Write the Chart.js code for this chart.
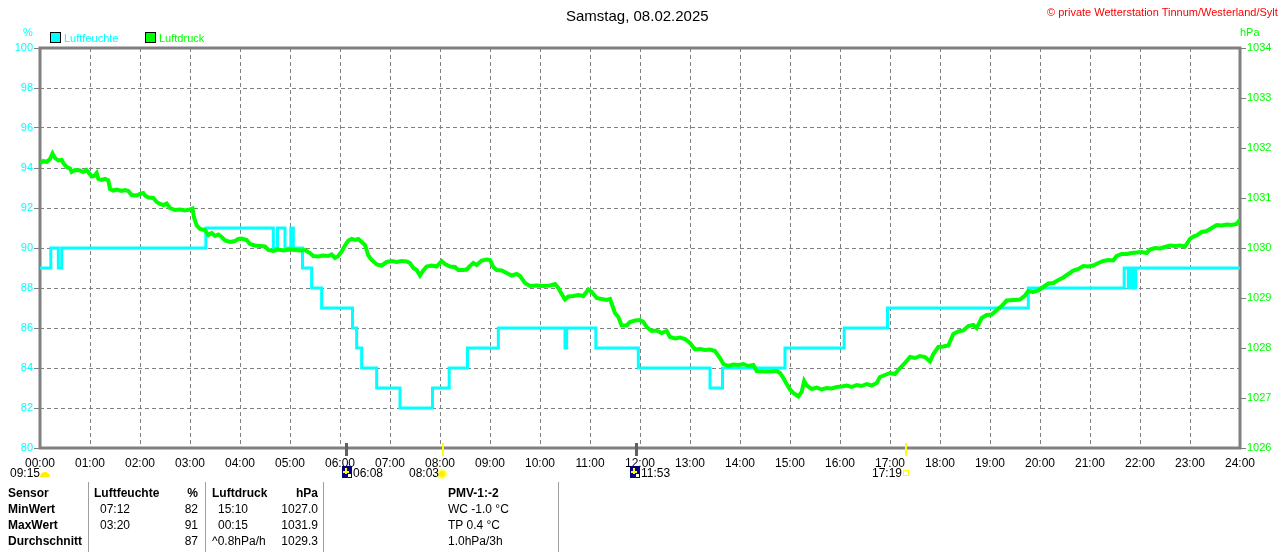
<!DOCTYPE html>
<html>
<head>
<meta charset="utf-8">
<script src="https://cdn.jsdelivr.net/npm/chart.js@4.4.1/dist/chart.umd.min.js"></script>
<style>
  body { margin: 0; background: #fff; font-family: "Liberation Sans", Arial, sans-serif; }
  #wrap { position: relative; width: 1280px; height: 552px; overflow: hidden; }
  #chart { position: absolute; left: 0; top: 0; }
  .t { position: absolute; white-space: nowrap; font-size: 12px; line-height: 14px; color: #000; }
  .b { font-weight: bold; }
  .r { text-align: right; }
  .sq { position: absolute; width: 9px; height: 9px; border: 1px solid #000; }
  .vl { position: absolute; top: 482px; width: 1px; height: 70px; background: #a0a0a0; }
</style>
</head>
<body>
<div id="wrap">
  <canvas id="chart" width="1280" height="552"></canvas>

  <div class="t" style="left:566px;top:7px;font-size:15px;line-height:17px">Samstag, 08.02.2025</div>
  <div class="t" style="left:1047px;top:5px;font-size:11px;color:#ff0000">© private Wetterstation Tinnum/Westerland/Sylt</div>

  <div class="t" style="left:23px;top:25px;font-size:11px;color:#00ffff">%</div>
  <div class="t" style="left:1240px;top:25px;font-size:11px;color:#00ff00">hPa</div>
  <div class="sq" style="left:50px;top:32px;background:#00ffff"></div>
  <div class="t" style="left:64px;top:31px;font-size:11px;color:#00ffff">Luftfeuchte</div>
  <div class="sq" style="left:145px;top:32px;background:#00ff00"></div>
  <div class="t" style="left:159px;top:31px;font-size:11px;color:#00ff00">Luftdruck</div>

  <!-- sun / moon times under the axis -->
  <div class="t" style="left:10px;top:466px">09:15</div>
  <div class="t" style="left:353px;top:466px">06:08</div>
  <div class="t" style="left:409px;top:466px">08:03</div>
  <div class="t" style="left:641px;top:466px">11:53</div>
  <div class="t" style="left:872px;top:466px">17:19</div>

  <!-- sensor table -->
  <div class="vl" style="left:88px"></div>
  <div class="vl" style="left:205px"></div>
  <div class="vl" style="left:323px"></div>
  <div class="vl" style="left:558px"></div>

  <div class="t b" style="left:8px;top:486px">Sensor</div>
  <div class="t b" style="left:8px;top:502px">MinWert</div>
  <div class="t b" style="left:8px;top:518px">MaxWert</div>
  <div class="t b" style="left:8px;top:534px">Durchschnitt</div>

  <div class="t b" style="left:94px;top:486px">Luftfeuchte</div>
  <div class="t b r" style="left:160px;width:38px;top:486px">%</div>
  <div class="t" style="left:100px;top:502px">07:12</div>
  <div class="t r" style="left:160px;width:38px;top:502px">82</div>
  <div class="t" style="left:100px;top:518px">03:20</div>
  <div class="t r" style="left:160px;width:38px;top:518px">91</div>
  <div class="t r" style="left:160px;width:38px;top:534px">87</div>

  <div class="t b" style="left:212px;top:486px">Luftdruck</div>
  <div class="t b r" style="left:270px;width:48px;top:486px">hPa</div>
  <div class="t" style="left:218px;top:502px">15:10</div>
  <div class="t r" style="left:270px;width:48px;top:502px">1027.0</div>
  <div class="t" style="left:218px;top:518px">00:15</div>
  <div class="t r" style="left:270px;width:48px;top:518px">1031.9</div>
  <div class="t" style="left:212px;top:534px">^0.8hPa/h</div>
  <div class="t r" style="left:270px;width:48px;top:534px">1029.3</div>

  <div class="t b" style="left:448px;top:486px">PMV-1:-2</div>
  <div class="t" style="left:448px;top:502px">WC -1.0 °C</div>
  <div class="t" style="left:448px;top:518px">TP 0.4 °C</div>
  <div class="t" style="left:448px;top:534px">1.0hPa/3h</div>
</div>

<script>
// Luftfeuchte (%), step values: each value holds from its time until the next one
const humTimes = ['0:00', '0:13', '0:22', '0:26', '3:19', '4:40', '4:45', '4:54', '5:01', '5:04',
  '5:15', '5:26', '5:38', '6:15', '6:20', '6:26', '6:44', '7:12', '7:51', '8:11',
  '8:33', '9:10', '10:30', '10:32', '11:07', '11:58', '13:24', '13:39', '14:54', '16:05',
  '16:57', '19:46', '21:41', '21:46', '21:49', '21:52', '21:55', '24:00'];
const humValues = [89, 90, 89, 90, 91, 90, 91, 90, 91, 90,
  89, 88, 87, 86, 85, 84, 83, 82, 83, 84,
  85, 86, 85, 86, 85, 84, 83, 84, 85, 86,
  87, 88, 89, 88, 89, 88, 89, 89];

// Luftdruck (hPa)
const pressTimes = [
  '0:00', '0:04', '0:08', '0:12', '0:15', '0:18', '0:22', '0:26', '0:28', '0:32', '0:36', '0:38', '0:42', '0:48', '0:52', '0:56', '0:58',
  '1:02', '1:05', '1:08', '1:10', '1:14', '1:18', '1:22', '1:24', '1:28', '1:32', '1:38', '1:42', '1:46', '1:50', '1:56',
  '2:00', '2:04', '2:06', '2:10', '2:16', '2:20', '2:24', '2:28', '2:32', '2:36', '2:42', '2:48', '2:54',
  '3:00', '3:03', '3:05', '3:08', '3:12', '3:18', '3:22', '3:26', '3:30', '3:34', '3:38', '3:42', '3:48', '3:54', '3:58',
  '4:02', '4:08', '4:12', '4:18', '4:24', '4:30', '4:34', '4:40', '4:46', '4:52',
  '5:00', '5:06', '5:12', '5:18', '5:24', '5:28', '5:34', '5:40', '5:46', '5:50', '5:54', '5:58',
  '6:02', '6:06', '6:10', '6:14', '6:18', '6:22', '6:26', '6:30', '6:34', '6:38', '6:44', '6:50', '6:56',
  '7:02', '7:08', '7:14', '7:20', '7:24', '7:28', '7:32', '7:36', '7:40', '7:44', '7:50', '7:56',
  '8:02', '8:06', '8:12', '8:18', '8:22', '8:28', '8:32', '8:36', '8:40', '8:44', '8:50', '8:56',
  '9:00', '9:04', '9:08', '9:14', '9:20', '9:26', '9:32', '9:36', '9:42', '9:48', '9:56',
  '10:04', '10:12', '10:18', '10:22', '10:26', '10:30', '10:34', '10:40', '10:46', '10:52', '10:58',
  '11:02', '11:08', '11:14', '11:20', '11:24', '11:30', '11:34', '11:38', '11:44', '11:48', '11:54',
  '12:00', '12:04', '12:08', '12:14', '12:20', '12:26', '12:32', '12:36', '12:42', '12:48', '12:54',
  '13:00', '13:06', '13:12', '13:18', '13:24', '13:30', '13:36', '13:40', '13:46', '13:52', '13:58',
  '14:04', '14:10', '14:16', '14:20', '14:28', '14:36', '14:44', '14:48', '14:52', '14:56',
  '15:00', '15:04', '15:10', '15:14', '15:17', '15:20', '15:26', '15:32', '15:38', '15:44', '15:50', '15:56',
  '16:02', '16:08', '16:14', '16:20', '16:26', '16:32', '16:38', '16:44', '16:48', '16:54',
  '17:00', '17:06', '17:12', '17:18', '17:24', '17:30', '17:36', '17:42', '17:48', '17:52', '17:58',
  '18:04', '18:10', '18:16', '18:22', '18:28', '18:34', '18:40', '18:44', '18:50', '18:56',
  '19:02', '19:08', '19:14', '19:20', '19:28', '19:36', '19:42', '19:46', '19:52', '19:58',
  '20:04', '20:10', '20:16', '20:22', '20:28', '20:34', '20:40', '20:46', '20:52', '20:58',
  '21:04', '21:10', '21:16', '21:22', '21:28', '21:32', '21:38', '21:44', '21:50', '21:56',
  '22:02', '22:08', '22:12', '22:18', '22:24', '22:30', '22:36', '22:42', '22:48', '22:54',
  '23:00', '23:04', '23:08', '23:14', '23:20', '23:26', '23:32', '23:38', '23:44', '23:50', '23:56', '24:00'];
const pressValues = [
  1031.69, 1031.74, 1031.72, 1031.78, 1031.89, 1031.80, 1031.75, 1031.76, 1031.70, 1031.62, 1031.59, 1031.52, 1031.56, 1031.55, 1031.52, 1031.56, 1031.52,
  1031.43, 1031.44, 1031.50, 1031.38, 1031.36, 1031.38, 1031.35, 1031.18, 1031.15, 1031.17, 1031.14, 1031.16, 1031.14, 1031.06, 1031.05,
  1031.08, 1031.10, 1031.05, 1031.01, 1031.00, 1030.92, 1030.88, 1030.86, 1030.89, 1030.80, 1030.76, 1030.77, 1030.75,
  1030.77, 1030.79, 1030.60, 1030.45, 1030.38, 1030.36, 1030.26, 1030.30, 1030.24, 1030.27, 1030.22, 1030.15, 1030.12, 1030.14, 1030.18,
  1030.19, 1030.16, 1030.08, 1030.05, 1030.04, 1030.03, 1029.96, 1029.94, 1029.97, 1029.95,
  1029.97, 1029.96, 1029.95, 1029.96, 1029.90, 1029.84, 1029.83, 1029.85, 1029.84, 1029.87, 1029.80, 1029.84,
  1029.93, 1030.05, 1030.15, 1030.18, 1030.16, 1030.18, 1030.12, 1030.06, 1029.85, 1029.76, 1029.67, 1029.65, 1029.72,
  1029.74, 1029.72, 1029.74, 1029.73, 1029.70, 1029.60, 1029.56, 1029.45, 1029.55, 1029.63, 1029.65, 1029.63,
  1029.74, 1029.68, 1029.63, 1029.62, 1029.56, 1029.56, 1029.57, 1029.64, 1029.70, 1029.66, 1029.75, 1029.77,
  1029.76, 1029.62, 1029.56, 1029.55, 1029.50, 1029.45, 1029.48, 1029.44, 1029.30, 1029.24, 1029.25,
  1029.24, 1029.25, 1029.28, 1029.20, 1029.08, 1028.97, 1029.03, 1029.04, 1029.06, 1029.04, 1029.17,
  1029.12, 1029.00, 1028.98, 1028.96, 1028.98, 1028.70, 1028.62, 1028.45, 1028.45, 1028.52, 1028.55,
  1028.56, 1028.52, 1028.42, 1028.34, 1028.35, 1028.30, 1028.34, 1028.22, 1028.19, 1028.21, 1028.18,
  1028.10, 1027.97, 1027.98, 1027.96, 1027.97, 1027.94, 1027.80, 1027.68, 1027.64, 1027.67, 1027.66,
  1027.68, 1027.64, 1027.66, 1027.54, 1027.53, 1027.53, 1027.54, 1027.50, 1027.40, 1027.28,
  1027.17, 1027.10, 1027.03, 1027.12, 1027.34, 1027.25, 1027.18, 1027.21, 1027.17, 1027.20, 1027.19, 1027.22,
  1027.23, 1027.25, 1027.22, 1027.26, 1027.24, 1027.28, 1027.25, 1027.30, 1027.42, 1027.46,
  1027.50, 1027.48, 1027.60, 1027.70, 1027.82, 1027.80, 1027.84, 1027.82, 1027.73, 1027.88, 1028.02,
  1028.03, 1028.05, 1028.28, 1028.33, 1028.35, 1028.44, 1028.46, 1028.40, 1028.60, 1028.66,
  1028.67, 1028.76, 1028.84, 1028.95, 1028.96, 1028.97, 1029.05, 1029.14, 1029.12, 1029.15,
  1029.22, 1029.29, 1029.30, 1029.36, 1029.41, 1029.48, 1029.55, 1029.58, 1029.64, 1029.63,
  1029.65, 1029.70, 1029.74, 1029.76, 1029.75, 1029.84, 1029.88, 1029.88, 1029.90, 1029.91,
  1029.92, 1029.90, 1029.97, 1030.00, 1029.99, 1030.02, 1030.05, 1030.04, 1030.05, 1030.03,
  1030.18, 1030.23, 1030.25, 1030.32, 1030.34, 1030.40, 1030.46, 1030.45, 1030.47, 1030.46, 1030.48, 1030.57];

// sun / moon marks on the time axis
const moonMarks = ['6:07', '11:55'];
const sunMarks = ['8:03', '17:19'];

const toHours = s => { const [h, m] = s.split(':').map(Number); return h + m / 60; };
const pad = n => String(n).padStart(2, '0');
const FONT = '"Liberation Sans", Arial, sans-serif';
const GRID = '#808080';

const extras = {
  id: 'extras',
  beforeDatasetsDraw(chart) {
    const { ctx, chartArea: a } = chart;
    ctx.save();
    ctx.strokeStyle = GRID;
    ctx.lineWidth = 3;
    ctx.strokeRect(a.left, a.top, a.right - a.left, a.bottom - a.top);
    ctx.restore();
  },
  afterDraw(chart) {
    const { ctx, chartArea: a, scales } = chart;
    const x = scales.x;
    ctx.save();
    // moon rise/set marks
    moonMarks.forEach(t => {
      const px = Math.round(x.getPixelForValue(toHours(t)));
      ctx.fillStyle = '#606060';
      ctx.fillRect(px - 1, a.bottom - 5, 3, 13);
    });
    // sunrise / sunset marks
    sunMarks.forEach(t => {
      const px = Math.round(x.getPixelForValue(toHours(t)));
      ctx.fillStyle = '#ffff00';
      ctx.fillRect(px - 1, a.bottom - 5, 2, 13);
    });
    // small icons beside the times
    ctx.fillStyle = '#ffee00';
    ctx.beginPath();
    ctx.arc(45, 477, 5, Math.PI, 0);
    ctx.fill();
    [[342, 466], [630, 466]].forEach(([ix, iy]) => {
      ctx.fillStyle = '#000080';
      ctx.fillRect(ix, iy, 10, 12);
      ctx.fillStyle = '#ffff00';
      ctx.fillRect(ix + 3, iy + 2, 2, 6);
      ctx.fillRect(ix + 1, iy + 5, 6, 2);
      ctx.fillStyle = '#ffffff';
      ctx.fillRect(ix + 6, iy + 8, 3, 3);
    });
    ctx.fillStyle = '#ffff66';
    ctx.beginPath();
    ctx.arc(442, 474, 5, 0, Math.PI * 2);
    ctx.fill();
    ctx.fillStyle = '#ffee00';
    ctx.beginPath();
    ctx.arc(442, 474, 3, 0, Math.PI * 2);
    ctx.fill();
    ctx.strokeStyle = '#ffff00';
    ctx.lineWidth = 1;
    ctx.strokeRect(903.5, 470.5, 5, 5);
    ctx.restore();
  }
};

new Chart(document.getElementById('chart'), {
  type: 'line',
  data: {
    datasets: [
      {
        label: 'Luftdruck',
        data: pressTimes.map((t, i) => ({ x: toHours(t), y: pressValues[i] })),
        yAxisID: 'y2',
        borderColor: '#00ff00',
        borderWidth: 4,
        pointRadius: 0,
        tension: 0
      },
      {
        label: 'Luftfeuchte',
        data: humTimes.map((t, i) => ({ x: toHours(t), y: humValues[i] })),
        yAxisID: 'y',
        borderColor: '#00ffff',
        borderWidth: 3,
        pointRadius: 0,
        stepped: 'before'
      }
    ]
  },
  options: {
    responsive: false,
    animation: false,
    layout: { padding: { top: 48, left: 0, right: 0, bottom: 0 } },
    plugins: { legend: { display: false }, tooltip: { enabled: false } },
    scales: {
      x: {
        type: 'linear', min: 0, max: 24,
        ticks: {
          stepSize: 1, autoSkip: false, maxRotation: 0, padding: 8,
          color: '#000', font: { size: 12, family: FONT },
          callback: v => pad(v) + ':00'
        },
        grid: { color: GRID, drawTicks: false, lineWidth: 1 },
        border: { display: false, dash: [4, 3] },
        afterFit: s => { s.height = 104; }
      },
      y: {
        position: 'left', min: 80, max: 100,
        ticks: { stepSize: 2, padding: 1, color: '#00ffff', font: { size: 11, family: FONT }, callback: v => String(v) },
        grid: { color: GRID, tickLength: 6, tickColor: GRID, lineWidth: 1 },
        border: { display: false, dash: [4, 3] },
        afterFit: s => { s.width = 40; }
      },
      y2: {
        position: 'right', min: 1026, max: 1034,
        ticks: { stepSize: 1, padding: 1, color: '#00ff00', font: { size: 11, family: FONT }, callback: v => String(v) },
        grid: { drawOnChartArea: false, tickLength: 6, tickColor: GRID },
        border: { display: false },
        afterFit: s => { s.width = 40; }
      }
    }
  },
  plugins: [extras]
});
</script>
</body>
</html>
